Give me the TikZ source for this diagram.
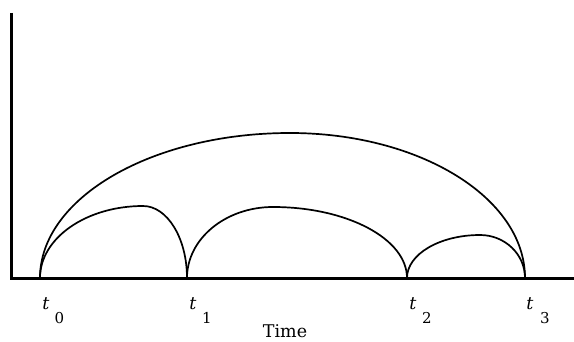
\documentclass[tikz,border=0pt]{standalone}
\usepackage{fontspec}
\setmainfont{DejaVu Serif}
\begin{document}
\begin{tikzpicture}[x=1pt,y=1pt,
  axisline/.style={line width=3pt},
  curve/.style={line width=1.7pt},
  lbl/.style={font=\fontsize{17.5}{20}\selectfont, inner sep=0pt},
  sub/.style={font=\fontsize{15}{17}\selectfont, inner sep=0pt}]
\useasboundingbox (0,0) rectangle (574,341);
% axes
\coordinate (top) at (11,328);
\coordinate (origin) at (11,63);
\coordinate (right) at (574,63);
\draw[axisline] (top) -- (origin) -- (right);
% time points
\coordinate (t0) at (40,63);
\coordinate (t1) at (187,63);
\coordinate (t2) at (407,63);
\coordinate (t3) at (525,63);
% big arc t0 - t3
\draw[curve] (t0) arc[start angle=180, end angle=90, x radius=250pt, y radius=145pt]
  arc[start angle=90, end angle=0, x radius=235pt, y radius=145pt];
% arc t0 - t1
\draw[curve] (t0) arc[start angle=180, end angle=90, x radius=103pt, y radius=72pt]
  arc[start angle=90, end angle=0, x radius=44pt, y radius=72pt];
% arc t1 - t2
\draw[curve] (t1) arc[start angle=180, end angle=90, x radius=86pt, y radius=71pt]
  arc[start angle=90, end angle=0, x radius=134pt, y radius=71pt];
% arc t2 - t3
\draw[curve] (t2) arc[start angle=180, end angle=90, x radius=73pt, y radius=43pt]
  arc[start angle=90, end angle=0, x radius=45pt, y radius=43pt];
% labels
\node[lbl] (l0) at (46,37.5) {\textit{t}};
\node[sub] (s0) at (59.5,23) {0};
\node[lbl] (l1) at (193,37.5) {\textit{t}};
\node[sub] (s1) at (207,23) {1};
\node[lbl] (l2) at (413,37.5) {\textit{t}};
\node[sub] (s2) at (427,23) {2};
\node[lbl] (l3) at (530,37.5) {\textit{t}};
\node[sub] (s3) at (545,23) {3};
\node[lbl, anchor=base] (time) at (285,3.5) {Time};
\end{tikzpicture}
\end{document}
